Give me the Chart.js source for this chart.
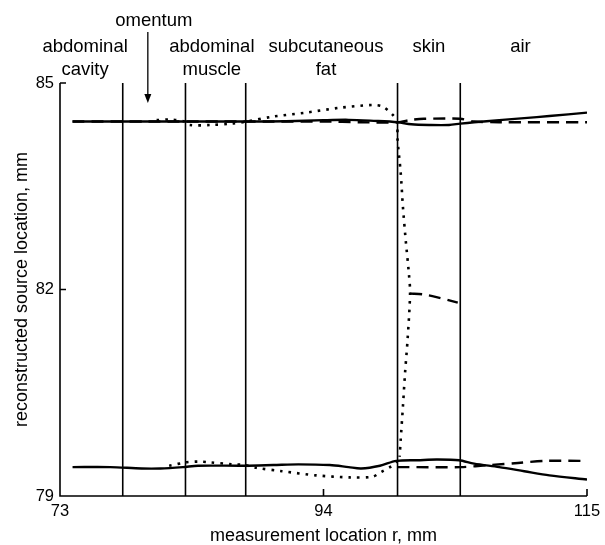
<!DOCTYPE html>
<html lang="en">
<head>
<meta charset="UTF-8">
<title>Reconstructed source location</title>
<script src="https://cdn.jsdelivr.net/npm/chart.js"></script>
<style>
    body {
        margin: 0;
        background: #fff;
    }
    #wrap {
        width: 605px;
        height: 545px;
    }
</style>
</head>
<body>
<div id="wrap">
    <canvas id="grafico" width="605" height="545"></canvas>
</div>
<script>
// axis ticks
const xTicks = [73, 94, 115];
const yTicks = [79, 82, 85];

// tissue boundaries (mm) and the names above each layer
const boundaries = [78, 83, 87.8, 99.9, 104.9];
const regionNames = [['abdominal', 'cavity'], ['abdominal', 'muscle'], ['subcutaneous', 'fat'], ['skin'], ['air']];
const regionNameX = [75, 85.1, 94.2, 102.4, 109.7];
const omentumX = 80;

// reconstructed locations, [r, location]
const solidTop = [[74, 84.44], [78, 84.44], [80, 84.44], [83, 84.44], [86, 84.44], [88, 84.44], [91, 84.445],
    [94, 84.46], [96, 84.465], [98, 84.45], [99.9, 84.43], [101, 84.40], [102.5, 84.39], [104, 84.39],
    [104.9, 84.41], [106, 84.43], [108, 84.46], [110, 84.49], [112, 84.52], [115, 84.57]];
const solidBottom = [[74, 79.42], [77, 79.42], [79.5, 79.40], [81, 79.40], [82.8, 79.42], [84, 79.44], [87.7, 79.44],
    [90, 79.45], [92, 79.46], [94.5, 79.45], [96, 79.42], [97, 79.40], [98.5, 79.44], [99.8, 79.51],
    [101.5, 79.52], [103, 79.53], [104.8, 79.52], [106, 79.47], [108, 79.42], [110, 79.36], [112, 79.30], [115, 79.24]];

const dashedTop = [[74, 84.44], [80, 84.44], [86, 84.44], [90, 84.44], [94, 84.44], [97, 84.43], [99.9, 84.43],
    [101, 84.465], [102, 84.48], [104.9, 84.48], [106, 84.44], [108, 84.43], [115, 84.43]];
const dashedMiddle = [[100.9, 81.94], [101.9, 81.93], [103, 81.89], [104.7, 81.81]];
const dashedBottom = [[99.9, 79.42], [104.9, 79.42], [107.3, 79.45], [109.5, 79.48], [111.6, 79.51], [115, 79.51]];

const dottedTop = [[80.7, 84.46], [81.8, 84.47], [82.9, 84.44], [83.3, 84.39], [85, 84.39], [86.7, 84.41],
    [87.85, 84.44], [89.9, 84.51], [92.6, 84.57], [95.3, 84.64], [97.9, 84.68], [98.7, 84.66], [99.5, 84.54],
    [99.85, 84.44], [99.9, 84.18], [100.15, 83.70], [100.33, 83.20], [100.55, 82.72], [100.8, 82.24],
    [100.9, 81.95], [100.7, 81.27], [100.5, 80.79], [100.33, 80.30], [100.15, 79.81], [100.07, 79.57]];
const dottedBottom = [[81.7, 79.44], [83.1, 79.49], [84.1, 79.50], [84.9, 79.49], [86.7, 79.46], [87.7, 79.45],
    [88.65, 79.41], [90.7, 79.36], [93.4, 79.30], [96.1, 79.27], [97.9, 79.28], [98.6, 79.35], [99.3, 79.42],
    [99.8, 79.49], [100.07, 79.57]];

const FONT = '"Liberation Sans", Arial, sans-serif';

function serie(puntos, dash) {
    return {
        data: puntos.map(p => ({ x: p[0], y: p[1] })),
        showLine: true,
        borderColor: '#000',
        borderWidth: dash && dash[0] < 4 ? 2.6 : 2.4,
        borderDash: dash || [],
        borderCapStyle: 'butt',
        pointRadius: 0,
        tension: 0.3,
        fill: false
    };
}

// frame, boundaries, inward ticks and all the text
const decor = {
    id: 'decor',
    beforeDatasetsDraw(chart) {
        const { ctx, chartArea: a, scales: { x, y } } = chart;
        ctx.save();
        ctx.strokeStyle = '#000';
        ctx.lineWidth = 1.6;
        ctx.beginPath();
        boundaries.forEach(b => {
            const px = x.getPixelForValue(b);
            ctx.moveTo(px, a.top);
            ctx.lineTo(px, a.bottom);
        });
        ctx.moveTo(a.left, a.top);
        ctx.lineTo(a.left, a.bottom);
        ctx.lineTo(a.right, a.bottom);
        yTicks.forEach(v => {
            const py = y.getPixelForValue(v);
            ctx.moveTo(a.left, py);
            ctx.lineTo(a.left + 6, py);
        });
        xTicks.forEach(v => {
            const px = x.getPixelForValue(v);
            ctx.moveTo(px, a.bottom);
            ctx.lineTo(px, a.bottom - 7);
        });
        ctx.stroke();
        ctx.restore();
    },
    afterDraw(chart) {
        const { ctx, chartArea: a, scales: { x, y } } = chart;
        ctx.save();
        ctx.fillStyle = '#000';
        ctx.strokeStyle = '#000';

        // tick labels
        ctx.font = '16.5px ' + FONT;
        ctx.textAlign = 'right';
        ctx.textBaseline = 'middle';
        yTicks.forEach(v => ctx.fillText(String(v), a.left - 6, y.getPixelForValue(v)));
        ctx.textAlign = 'center';
        xTicks.forEach(v => ctx.fillText(String(v), x.getPixelForValue(v), a.bottom + 15));

        // axis titles
        ctx.font = '18px ' + FONT;
        ctx.fillText('measurement location r, mm', (a.left + a.right) / 2, a.bottom + 40);
        ctx.save();
        ctx.translate(22, y.getPixelForValue(82));
        ctx.rotate(-Math.PI / 2);
        ctx.fillText('reconstructed source location, mm', 0, 0);
        ctx.restore();

        // layer names
        ctx.font = '18.5px ' + FONT;
        regionNames.forEach((lineas, i) => {
            const px = x.getPixelForValue(regionNameX[i]);
            lineas.forEach((t, j) => ctx.fillText(t, px, a.top - 36 + j * 23));
        });

        // omentum with its arrow
        const ox = x.getPixelForValue(omentumX);
        ctx.fillText('omentum', ox + 6, a.top - 62);
        ctx.lineWidth = 1.3;
        ctx.beginPath();
        ctx.moveTo(ox, a.top - 51);
        ctx.lineTo(ox, a.top + 14);
        ctx.stroke();
        ctx.beginPath();
        ctx.moveTo(ox - 3.5, a.top + 11);
        ctx.lineTo(ox + 3.5, a.top + 11);
        ctx.lineTo(ox, a.top + 20);
        ctx.closePath();
        ctx.fill();
        ctx.restore();
    }
};

const ctx = document.getElementById('grafico').getContext('2d');
const grafica = new Chart(ctx, {
    type: 'scatter',
    data: {
        datasets: [
            serie(solidTop),
            serie(solidBottom),
            serie(dashedTop, [12, 7]),
            serie(dashedMiddle, [12, 7]),
            serie(dashedBottom, [12, 7]),
            serie(dottedTop, [2.6, 6]),
            serie(dottedBottom, [2.6, 6])
        ]
    },
    options: {
        responsive: false,
        animation: false,
        layout: { padding: { left: 60, right: 18, top: 83, bottom: 49 } },
        plugins: { legend: { display: false }, tooltip: { enabled: false } },
        scales: {
            x: { type: 'linear', min: 73, max: 115, display: false },
            y: { type: 'linear', min: 79, max: 85, display: false }
        }
    },
    plugins: [decor]
});
</script>
</body>
</html>
